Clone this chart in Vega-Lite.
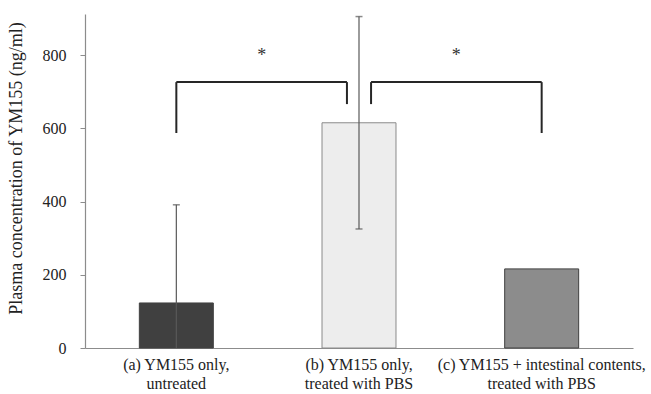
{
  "$schema": "https://vega.github.io/schema/vega-lite/v6.json",
  "width": 548,
  "height": 334,
  "autosize": "none",
  "padding": {"left": 85, "top": 14, "right": 18, "bottom": 46},
  "background": "white",
  "config": {
    "view": {"stroke": null},
    "font": "Liberation Serif",
    "axis": {"grid": false}
  },
  "datasets": {
    "groups": [
      {"group": "a", "label": "(a) YM155 only,|untreated", "value": 123, "lo": 0, "hi": 391, "locap": null},
      {"group": "b", "label": "(b) YM155 only,|treated with PBS", "value": 615, "lo": 325, "hi": 905, "locap": 325},
      {"group": "c", "label": "(c) YM155 + intestinal contents,|treated with PBS", "value": 216, "lo": null, "hi": null, "locap": null}
    ],
    "brackets": [
      {"x": 0.5, "x2": 1.434, "y": 726, "y2": 726},
      {"x": 0.5, "x2": 0.5, "y": 587, "y2": 726},
      {"x": 1.434, "x2": 1.434, "y": 666, "y2": 726},
      {"x": 1.566, "x2": 2.5, "y": 726, "y2": 726},
      {"x": 1.566, "x2": 1.566, "y": 666, "y2": 726},
      {"x": 2.5, "x2": 2.5, "y": 587, "y2": 726}
    ],
    "stars": [
      {"x": 0.967, "y": 808, "text": "*"},
      {"x": 2.033, "y": 808, "text": "*"}
    ]
  },
  "resolve": {"scale": {"x": "independent"}},
  "layer": [
    {
      "data": {"name": "groups"},
      "encoding": {
        "x": {
          "field": "label",
          "type": "nominal",
          "sort": null,
          "scale": {"paddingInner": 0.595, "paddingOuter": 0.2975},
          "axis": {
            "title": null,
            "labelAngle": 0,
            "labelExpr": "split(datum.label, '|')",
            "labelFont": "Liberation Serif",
            "labelFontSize": 16,
            "labelColor": "#222222",
            "labelLineHeight": 19,
            "labelPadding": 8,
            "labelLimit": 300,
            "ticks": false,
            "domainColor": "#8c8c8c",
            "domainWidth": 1.2
          }
        }
      },
      "layer": [
        {
          "mark": {"type": "bar", "strokeWidth": 1},
          "encoding": {
            "y": {
              "field": "value",
              "type": "quantitative",
              "scale": {"domain": [0, 912], "nice": false},
              "axis": {
                "title": "Plasma concentration of YM155 (ng/ml)",
                "values": [0, 200, 400, 600, 800],
                "titleFont": "Liberation Serif",
                "titleFontSize": 18,
                "titleFontWeight": "normal",
                "titleColor": "#222222",
                "titleX": -60,
                "titleY": 154,
                "titleBaseline": "bottom",
                "labelFont": "Liberation Serif",
                "labelFontSize": 16,
                "labelColor": "#222222",
                "labelPadding": 14,
                "tickSize": 5,
                "tickColor": "#8c8c8c",
                "domainColor": "#8c8c8c",
                "domainWidth": 1.2
              }
            },
            "color": {
              "field": "group",
              "type": "nominal",
              "scale": {"domain": ["a", "b", "c"], "range": ["#404040", "#ededed", "#8c8c8c"]},
              "legend": null
            },
            "stroke": {
              "field": "group",
              "type": "nominal",
              "scale": {"domain": ["a", "b", "c"], "range": ["#404040", "#8a8a8a", "#404040"]},
              "legend": null
            }
          }
        },
        {
          "mark": {"type": "rule", "color": "#595959", "strokeWidth": 1.2},
          "encoding": {
            "y": {"field": "lo", "type": "quantitative"},
            "y2": {"field": "hi"}
          }
        },
        {
          "mark": {"type": "tick", "color": "#595959", "thickness": 1.5, "size": 7},
          "encoding": {
            "y": {"field": "hi", "type": "quantitative"}
          }
        },
        {
          "mark": {"type": "tick", "color": "#595959", "thickness": 1.5, "size": 7},
          "encoding": {
            "y": {"field": "locap", "type": "quantitative"}
          }
        }
      ]
    },
    {
      "layer": [
        {
          "data": {"name": "brackets"},
          "mark": {"type": "rule", "color": "#262626", "strokeWidth": 2},
          "encoding": {
            "x": {"field": "x", "type": "quantitative", "scale": {"domain": [0, 3], "nice": false, "zero": false}, "axis": null},
            "x2": {"field": "x2"},
            "y": {"field": "y", "type": "quantitative"},
            "y2": {"field": "y2"}
          }
        },
        {
          "data": {"name": "stars"},
          "mark": {"type": "text", "font": "Liberation Serif", "fontSize": 18, "color": "#333333", "baseline": "middle", "dy": 4},
          "encoding": {
            "x": {"field": "x", "type": "quantitative", "scale": {"domain": [0, 3], "nice": false, "zero": false}, "axis": null},
            "y": {"field": "y", "type": "quantitative"},
            "text": {"field": "text"}
          }
        }
      ]
    }
  ]
}
